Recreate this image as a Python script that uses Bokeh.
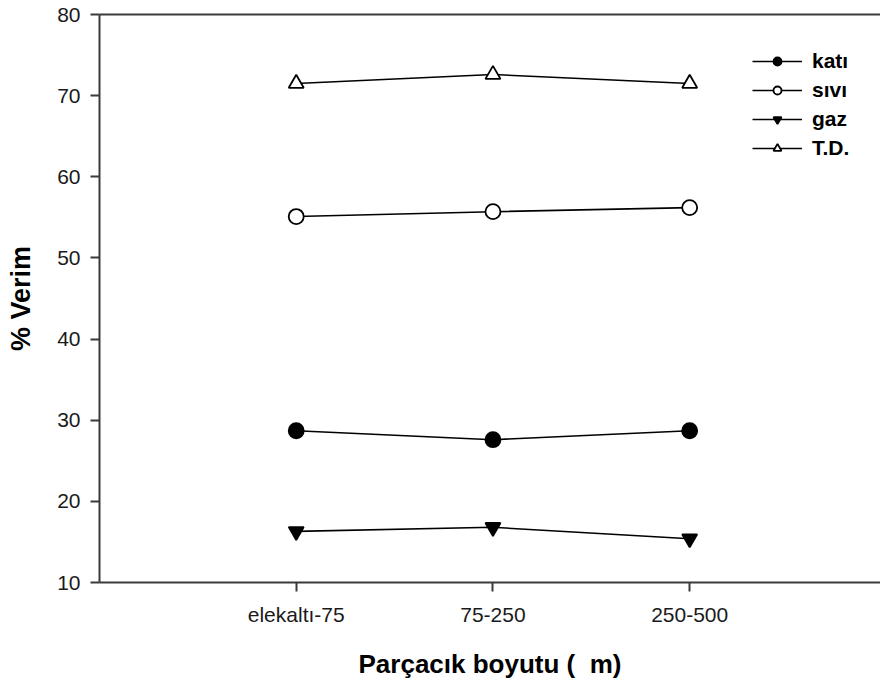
from bokeh.plotting import figure
from bokeh.models import Range1d, FixedTicker, LinearAxis, Legend, LegendItem
from bokeh.embed import file_html
from bokeh.resources import INLINE

# ---- data ----
categories = ["elekaltı-75", "75-250", "250-500"]
kati = [28.7, 27.6, 28.7]
sivi = [55.1, 55.7, 56.2]
gaz = [16.3, 16.8, 15.4]
td = [71.5, 72.6, 71.5]
y_ticks = [10, 20, 30, 40, 50, 60, 70, 80]

x = list(range(1, len(categories) + 1))

FONT = "Liberation Sans"
AXIS_COLOR = "#3a3a3a"

p = figure(width=880, height=686, output_backend="svg", toolbar_location=None,
           x_range=Range1d(0, 3.97), y_range=Range1d(10, 80),
           min_border_left=99, min_border_right=0, min_border_top=14,
           min_border_bottom=104, background_fill_color="white",
           border_fill_color="white", outline_line_color=None)
p.grid.visible = False

# x axis
xa = p.xaxis[0]
xa.ticker = FixedTicker(ticks=x)
xa.major_label_overrides = {i: c for i, c in zip(x, categories)}
xa.axis_label = "Parçacık boyutu ( \u00a0m)"
# y axis
ya = p.yaxis[0]
ya.ticker = FixedTicker(ticks=y_ticks)
ya.axis_label = "% Verim"

for ax in (xa, ya):
    ax.axis_line_color = AXIS_COLOR
    ax.axis_line_width = 2
    ax.major_tick_line_color = AXIS_COLOR
    ax.major_tick_line_width = 2
    ax.major_tick_out = 9
    ax.major_tick_in = 0
    ax.minor_tick_line_color = None
    ax.major_label_text_font = FONT
    ax.major_label_text_font_size = "21px"
    ax.major_label_text_color = "#1a1a1a"
    ax.axis_label_text_font = FONT
    ax.axis_label_text_font_size = "26px"
    ax.axis_label_text_font_style = "bold"
    ax.axis_label_text_color = "#000000"
xa.major_label_standoff = 11
xa.axis_label_standoff = 20
ya.major_label_standoff = 10
ya.axis_label_standoff = 18
ya.axis_label_text_font_size = "27px"

# top frame line
top = LinearAxis(ticker=FixedTicker(ticks=[]), axis_line_color=AXIS_COLOR,
                 axis_line_width=2, major_label_text_font_size="0px",
                 minor_tick_line_color=None, major_tick_line_color=None)
p.add_layout(top, "above")

series = [("katı", kati, "circle", "black", 15),
          ("sıvı", sivi, "circle", "white", 15),
          ("gaz", gaz, "inverted_triangle", "black", 15),
          ("T.D.", td, "triangle", "white", 15)]

items = []
for name, vals, marker, fill, size in series:
    ln = p.line(x, vals, line_color="black", line_width=1.6)
    sc = p.scatter(x, vals, marker=marker, size=size, fill_color=fill,
                   line_color="black", line_width=1.8)
    items.append(LegendItem(label=name, renderers=[ln, sc]))

legend = Legend(items=items, location=(653, 422), orientation="vertical",
                glyph_width=50, glyph_height=20, label_height=20,
                spacing=5, padding=0, margin=0, label_standoff=10,
                border_line_color=None, background_fill_alpha=0,
                label_text_font=FONT, label_text_font_size="21px",
                label_text_font_style="bold", label_text_color="#000000")
p.add_layout(legend, "center")

open("out.html", "w").write(file_html(p, INLINE))
